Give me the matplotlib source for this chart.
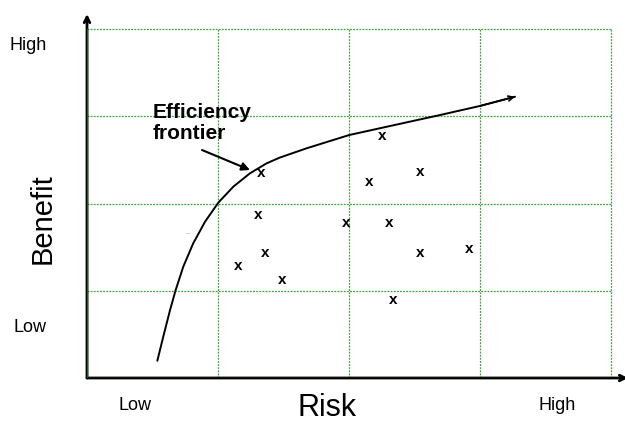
import matplotlib
matplotlib.use("Agg")
import matplotlib.pyplot as plt

plt.rcParams["font.family"] = ["Liberation Sans", "DejaVu Sans"]

# Grid is 4 x 4 cells; data units are cell widths.
grid_ticks = [0, 1, 2, 3, 4]

# Scattered portfolios ("x" marks)
points_x = [1.33, 2.25, 2.15, 2.54, 1.31, 1.98, 2.31, 1.36, 1.15, 1.49, 2.54, 2.92, 2.34]
points_y = [2.35, 2.77, 2.25, 2.36, 1.87, 1.78, 1.78, 1.43, 1.28, 1.12, 1.43, 1.48, 0.89]

# Hand-drawn efficiency frontier
frontier_x = [0.537, 0.582, 0.634, 0.677, 0.735, 0.811, 0.901, 1.002, 1.117,
              1.244, 1.372, 1.473, 1.677, 2.002, 2.313, 2.695, 3.000, 3.267]
frontier_y = [0.198, 0.473, 0.779, 1.009, 1.276, 1.544, 1.791, 2.009, 2.193,
              2.346, 2.461, 2.527, 2.633, 2.785, 2.888, 3.014, 3.118, 3.224]

fig = plt.figure(figsize=(6.25, 4.22), dpi=100)
ax = fig.add_axes([87 / 625, 44 / 422, 541 / 625, 364 / 422])
ax.set_xlim(0, 541 / 131)
ax.set_ylim(0, 364 / 87.25)
for s in ax.spines.values():
    s.set_visible(False)
ax.set_xticks([])
ax.set_yticks([])

grid_kw = dict(color="#3aa63a", linestyle=(0, (1.5, 1.0)), linewidth=0.9, zorder=1)
for g in grid_ticks[1:]:
    ax.plot([g, g], [0, 4], **grid_kw)
for g in grid_ticks[1:]:
    ax.plot([0, 4], [g, g], **grid_kw)

# Axes with arrows
ax.annotate("", xy=(541 / 131, 0), xytext=(0, 0),
            arrowprops=dict(arrowstyle="->", color="black", lw=2.0, shrinkA=0, shrinkB=0))
ax.annotate("", xy=(0, 364 / 87.25), xytext=(0, 0),
            arrowprops=dict(arrowstyle="->", color="black", lw=2.0, shrinkA=0, shrinkB=0))
ax.plot([0, 0], [0, 4], color="#1a5c1a", lw=1.0, zorder=3)
ax.plot([0, 4], [0, 0], color="#1a5c1a", lw=1.0, zorder=3)

# Frontier curve with small open arrowhead
ax.plot(frontier_x, frontier_y, color="black", lw=1.4, zorder=4,
        solid_joinstyle="round", solid_capstyle="round")
ax.annotate("", xy=(frontier_x[-1], frontier_y[-1]), xytext=(frontier_x[-2], frontier_y[-2]),
            arrowprops=dict(arrowstyle="->", color="black", lw=1.2, mutation_scale=9,
                            shrinkA=0, shrinkB=0))

for px, py in zip(points_x, points_y):
    ax.text(px, py, "x", fontsize=11, fontweight="bold", ha="center", va="center", zorder=5)

# Label and pointer
ax.text(0.5, 3.15, "Efficiency\nfrontier", fontsize=15, fontweight="bold",
        ha="left", va="top", linespacing=1.15)
ax.annotate("", xy=(1.244, 2.384), xytext=(0.878, 2.613),
            arrowprops=dict(arrowstyle="-|>", color="black", lw=1.5, mutation_scale=12,
                            shrinkA=0, shrinkB=0))

# tiny stray mark
ax.text(0.77, 1.65, "\u2013", color="#8fb3e0", fontsize=6, ha="center", va="center")

fig.text(28 / 625, 1 - 45 / 422, "High", fontsize=13, ha="center", va="center")
fig.text(30 / 625, 1 - 327 / 422, "Low", fontsize=13, ha="center", va="center")
fig.text(135 / 625, 1 - 405 / 422, "Low", fontsize=13, ha="center", va="center")
fig.text(557 / 625, 1 - 405 / 422, "High", fontsize=13, ha="center", va="center")
fig.text(43 / 625, 1 - 219 / 422, "Benefit", fontsize=21, rotation=90, ha="center", va="center")
fig.text(327 / 625, 1 - 408 / 422, "Risk", fontsize=22, ha="center", va="center")

fig.savefig("out.png", dpi=100)
